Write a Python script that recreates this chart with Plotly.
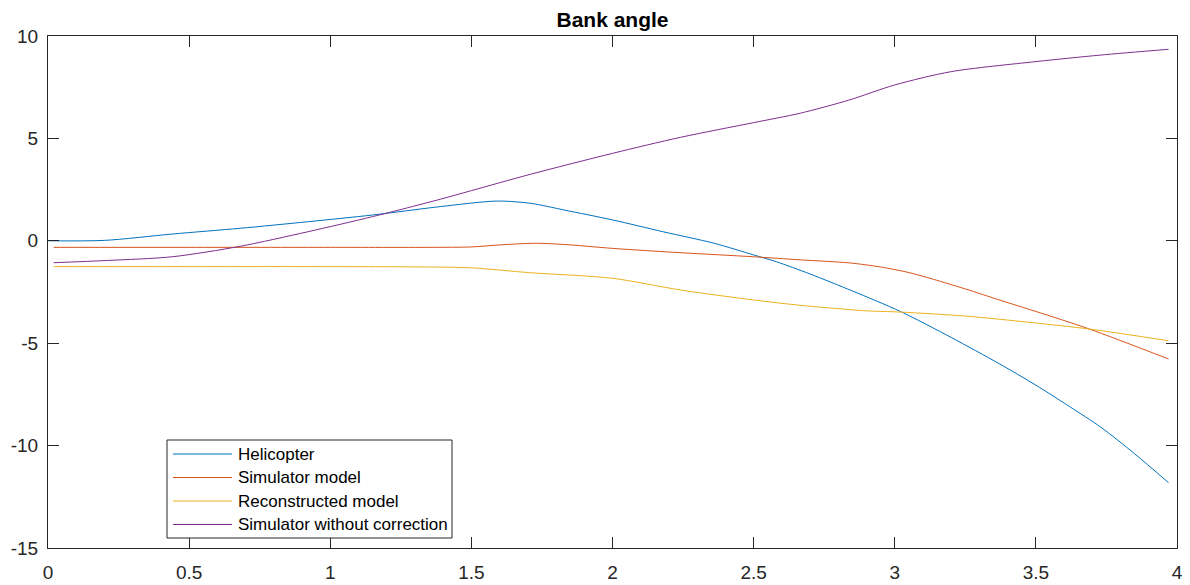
import plotly.graph_objects as go

# ---- data ----
heli_t = [0.0, 0.2, 0.44, 0.68, 0.92, 1.15, 1.39, 1.59, 1.71, 1.83, 2.0, 2.18, 2.36, 2.5, 2.58, 2.7, 2.85, 3.02, 3.2, 3.37, 3.5, 3.62, 3.73, 3.85, 3.97]
heli_v = [0.0, 0.02, 0.33, 0.61, 0.93, 1.26, 1.67, 1.94, 1.83, 1.50, 1.02, 0.44, -0.12, -0.69, -1.02, -1.62, -2.45, -3.45, -4.72, -6.0, -7.05, -8.1, -9.1, -10.4, -11.81]

sim_t = [0.02, 0.5, 1.0, 1.35, 1.5, 1.6, 1.73, 1.85, 2.0, 2.24, 2.5, 2.665, 2.84, 2.95, 3.05, 3.137, 3.25, 3.373, 3.5, 3.69, 3.97]
sim_v = [-0.32, -0.32, -0.32, -0.32, -0.30, -0.2, -0.12, -0.2, -0.37, -0.58, -0.78, -0.93, -1.08, -1.28, -1.55, -1.88, -2.35, -2.9, -3.45, -4.31, -5.77]

rec_t = [0.02, 0.5, 1.0, 1.35, 1.5, 1.71, 2.0, 2.24, 2.5, 2.665, 2.77, 2.9, 3.02, 3.255, 3.49, 3.69, 3.97]
rec_v = [-1.26, -1.26, -1.26, -1.28, -1.32, -1.56, -1.83, -2.40, -2.89, -3.15, -3.28, -3.42, -3.48, -3.68, -4.0, -4.31, -4.88]

raw_t = [0.02, 0.21, 0.44, 0.68, 0.92, 1.15, 1.39, 1.5, 1.71, 2.0, 2.24, 2.5, 2.665, 2.84, 3.0, 3.2, 3.5, 3.73, 3.97]
raw_v = [-1.07, -0.96, -0.78, -0.27, 0.44, 1.18, 2.03, 2.45, 3.25, 4.27, 5.05, 5.77, 6.23, 6.88, 7.61, 8.26, 8.75, 9.07, 9.35]

names = ["Helicopter", "Simulator model", "Reconstructed model", "Simulator without correction"]
colors = ["#0072BD", "#D95319", "#EDB120", "#7E2F8E"]

x_ticks = [0, 0.5, 1, 1.5, 2, 2.5, 3, 3.5, 4]
x_tick_text = ["0", "0.5", "1", "1.5", "2", "2.5", "3", "3.5", "4"]
y_ticks = [-15, -10, -5, 0, 5, 10]
y_tick_text = ["-15", "-10", "-5", "0", "5", "10"]

series = [(heli_t, heli_v), (sim_t, sim_v), (rec_t, rec_v), (raw_t, raw_v)]

fig = go.Figure()
for (t, v), n, c in zip(series, names, colors):
    fig.add_trace(go.Scatter(x=t, y=v, mode="lines", name=n, showlegend=False,
                             line=dict(color=c, width=1, shape="spline", smoothing=0.8)))

axcol = "#262626"

# ---- MATLAB-style legend box (paper coordinates from the plot frame) ----
PL, PR, PT, PB = 48, 1177, 36, 548
def px(x):
    return (x - PL) / (PR - PL)
def py(y):
    return (PB - y) / (PB - PT)

box_l, box_r, box_t, box_b = 167, 452, 440, 538
row_y = [454, 477.5, 501, 524.5]
shapes = [dict(type="rect", xref="paper", yref="paper",
               x0=px(box_l), x1=px(box_r), y0=py(box_b), y1=py(box_t),
               line=dict(color=axcol, width=1), fillcolor="white", layer="above")]
annotations = []
for n, c, ry in zip(names, colors, row_y):
    shapes.append(dict(type="line", xref="paper", yref="paper",
                       x0=px(173), x1=px(232), y0=py(ry), y1=py(ry),
                       line=dict(color=c, width=1), layer="above"))
    annotations.append(dict(text=n, xref="paper", yref="paper", x=px(236), y=py(ry),
                            xanchor="left", yanchor="middle", showarrow=False,
                            font=dict(size=17, color="#000000")))

fig.update_layout(
    width=1190, height=585,
    margin=dict(l=48, r=13, t=36, b=37),
    paper_bgcolor="white", plot_bgcolor="white",
    font=dict(family="Liberation Sans, Arial, sans-serif", size=19, color=axcol),
    title=dict(text="<b>Bank angle</b>", x=0.5, xref="paper", xanchor="center",
               y=1 - 20 / 585, yref="container", yanchor="middle",
               font=dict(size=21, color="#000000")),
    showlegend=False,
    shapes=shapes,
    annotations=annotations,
    xaxis=dict(range=[0, 4], tickvals=x_ticks, ticktext=x_tick_text, automargin=False,
               showgrid=False, zeroline=False, showline=True, linecolor=axcol, linewidth=1,
               mirror="ticks", ticks="inside", ticklen=11, tickcolor=axcol, tickwidth=1,
               ticklabelstandoff=7),
    yaxis=dict(range=[-15, 10], tickvals=y_ticks, ticktext=y_tick_text, automargin=False,
               showgrid=False, zeroline=False, showline=True, linecolor=axcol, linewidth=1,
               mirror="ticks", ticks="inside", ticklen=11, tickcolor=axcol, tickwidth=1,
               ticklabelstandoff=5),
)

fig.write_html("out.html")
